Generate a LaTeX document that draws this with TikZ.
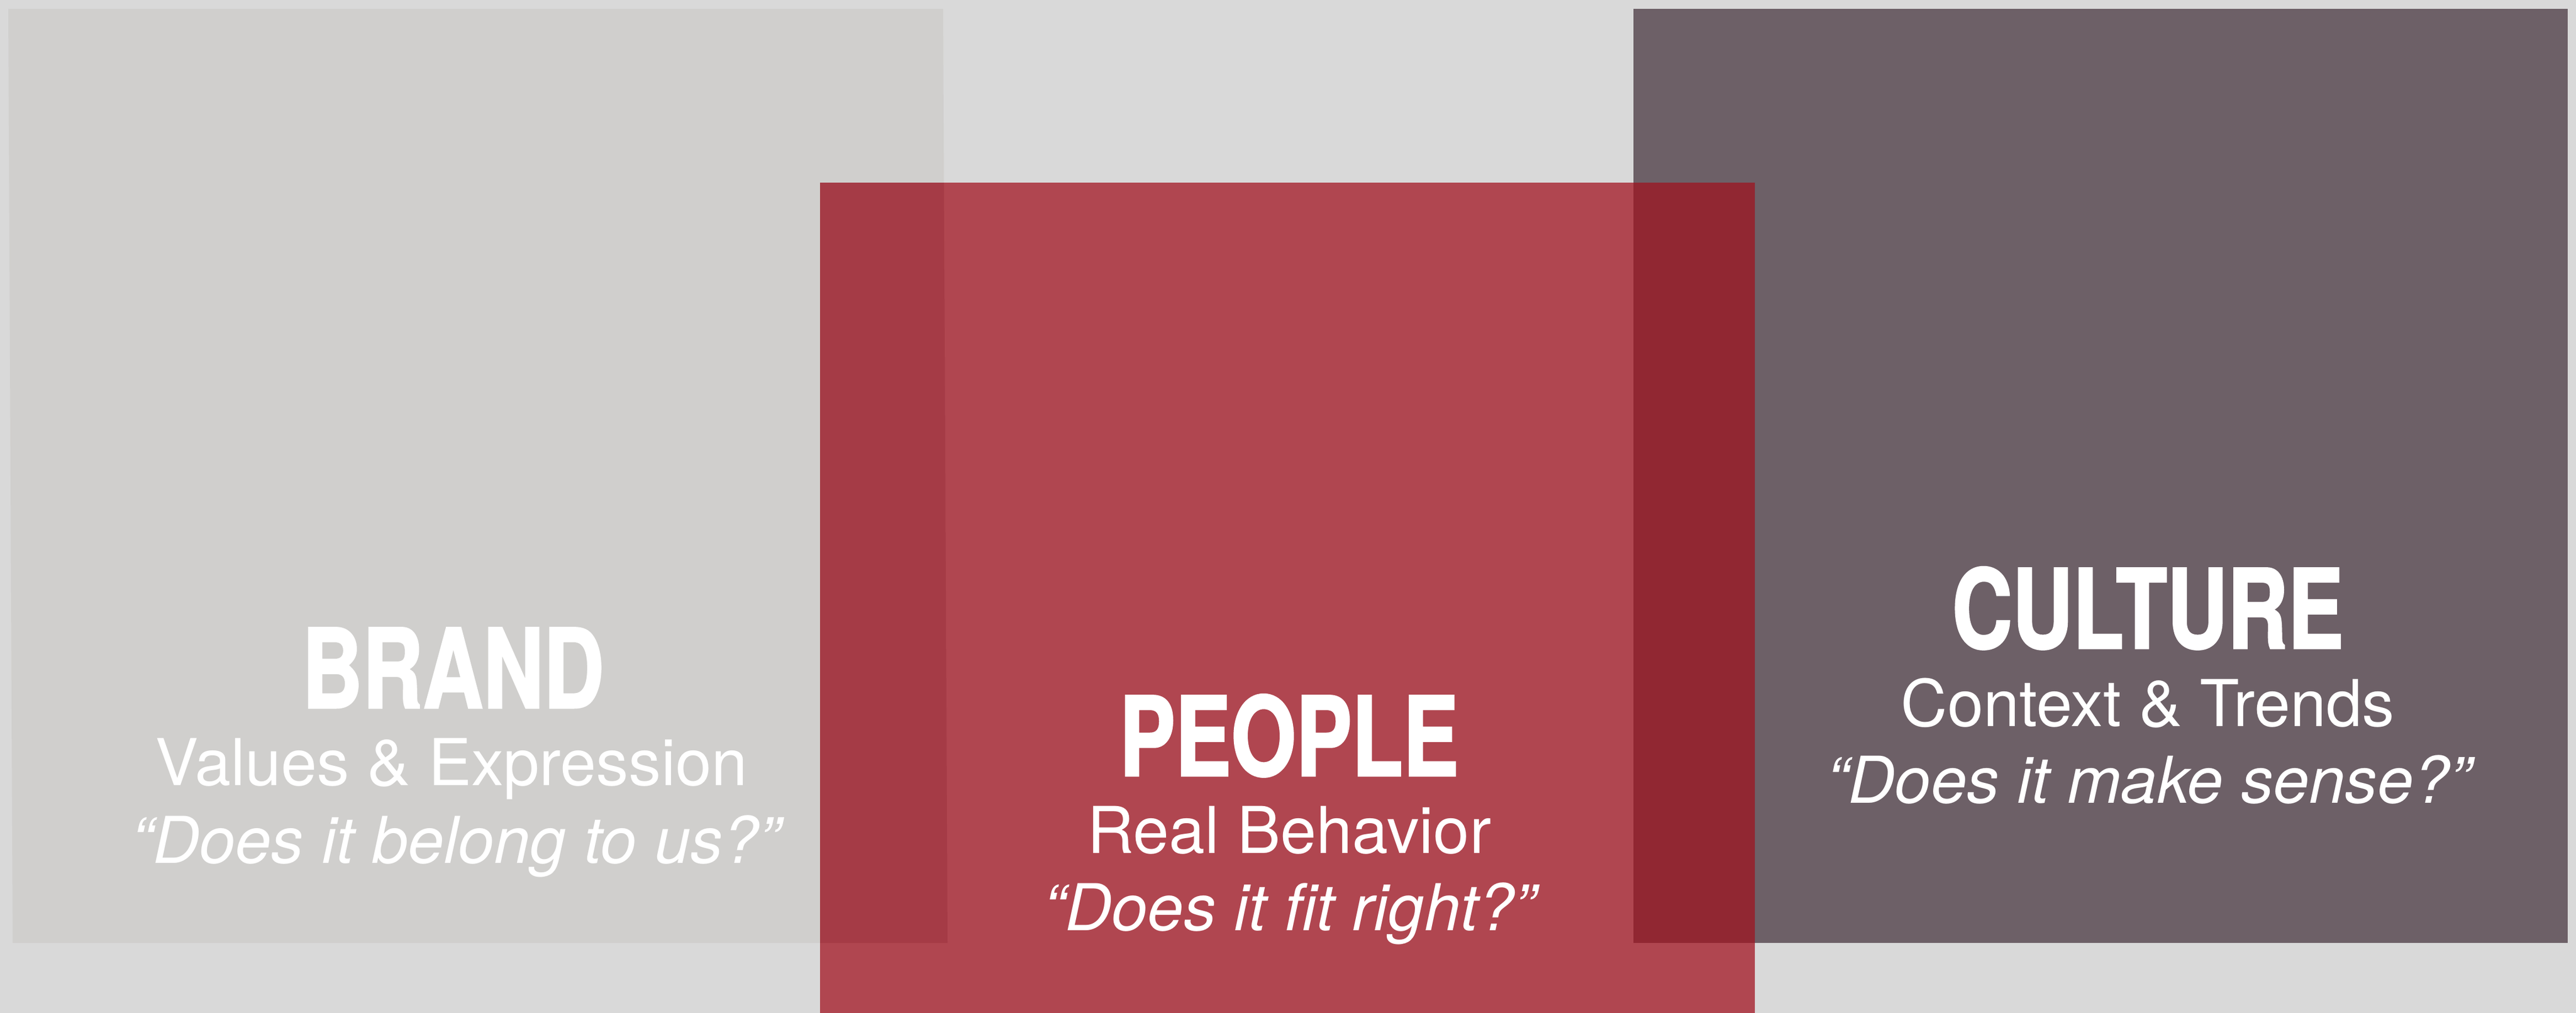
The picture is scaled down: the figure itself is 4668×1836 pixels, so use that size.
\documentclass[tikz,border=0pt]{standalone}
\usepackage{fontspec}
\setmainfont{TeX Gyre Heros}
\newfontfamily\titlefont{TeX Gyre Heros}[FakeStretch=0.76,FakeBold=1.5]
\usetikzlibrary{positioning,calc}
\definecolor{bggray}{RGB}{217,217,217}
\definecolor{brandgray}{RGB}{208,207,205}
\definecolor{peoplered}{RGB}{176,70,80}
\definecolor{peoplebrand}{RGB}{165,59,70}
\definecolor{culturegray}{RGB}{109,96,103}
\definecolor{peopleculture}{RGB}{145,39,50}
\tikzset{
	x=0.01cm, y=-0.01cm,
	boxtitle/.style={
		anchor=base, inner sep=0pt, text=white,
		font=\titlefont\bfseries\fontsize{56.7}{60}\selectfont
	},
	%
	boxline/.style={
		anchor=base, inner sep=0pt, text=white,
		font=\fontsize{33.3}{36}\selectfont
	},
	%
	boxquote/.style={
		boxline, font=\itshape\fontsize{33.3}{36}\selectfont
	}
}
\begin{document}
\begin{tikzpicture}
    \fill[bggray] (0,0) rectangle (4668,1836);
    \useasboundingbox (0,0) rectangle (4668,1836);
    \fill[brandgray] (15,16) -- (1709,16) -- (1717,1709) -- (23,1709) -- cycle;
    \fill[culturegray] (2960,16) rectangle (4653,1709);
    \fill[peoplered] (1486,331) rectangle (3180,1836);
    \begin{scope}
        \clip (15,16) -- (1709,16) -- (1717,1709) -- (23,1709) -- cycle;
        \fill[peoplebrand] (1486,331) rectangle (3180,1836);
    \end{scope}
    \fill[peopleculture] (2960,331) rectangle (3180,1709);
    % texts
    \node(brand)[boxtitle] at (821,1283){BRAND};
    \node(brandsub)[boxline] at (818,1423){Values \& Expression};
    \node(brandq)[boxquote] at (826,1564){“Does it belong to us?”};
    \node(people)[boxtitle] at (2336,1406){PEOPLE};
    \node(peoplesub)[boxline] at (2336,1546){Real Behavior};
    \node(peopleq)[boxquote] at (2337,1686){“Does it fit right?”};
    \node(culture)[boxtitle] at (3892,1175){CULTURE};
    \node(culturesub)[boxline] at (3892,1316){Context \& Trends};
    \node(cultureq)[boxquote] at (3894,1455){“Does it make sense?”};
\end{tikzpicture}
\end{document}
